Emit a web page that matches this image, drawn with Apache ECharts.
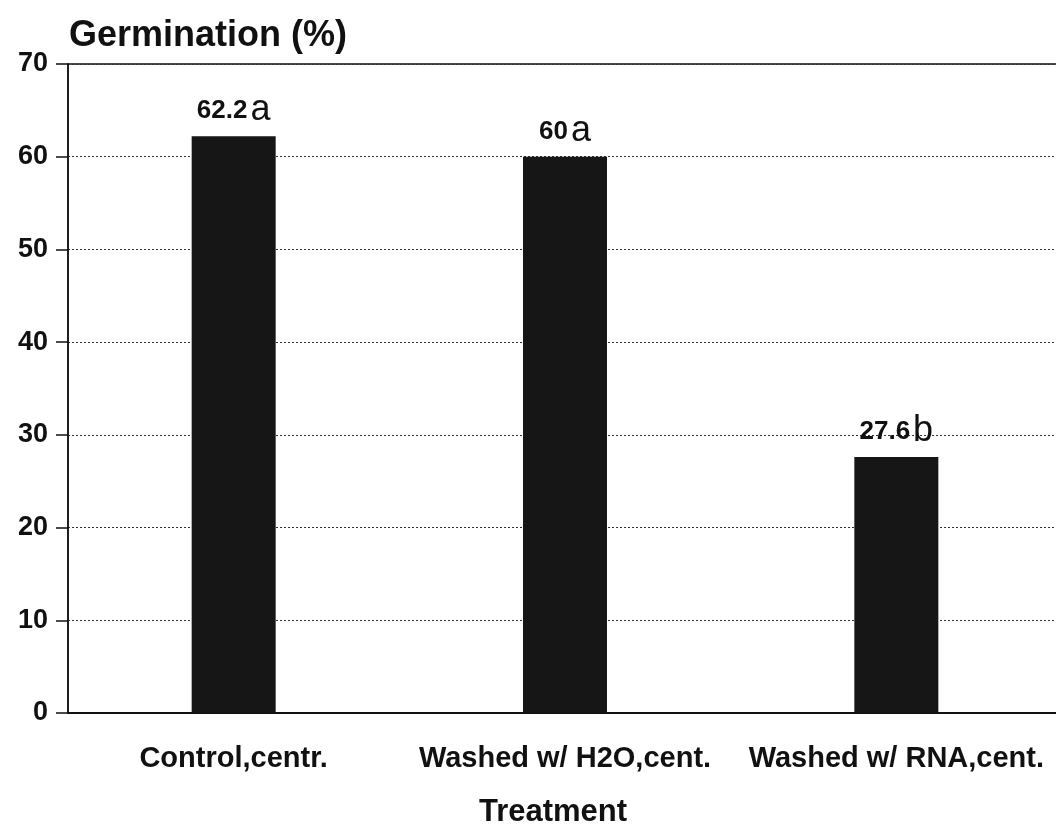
<!DOCTYPE html>
<html>
<head>
<meta charset="utf-8">
<script src="https://cdn.jsdelivr.net/npm/echarts@6/dist/echarts.min.js"></script>
<style>html,body{margin:0;padding:0;background:#fff;}#c{width:1056px;height:834px;}</style>
</head>
<body>
<div id="c"></div>
<script>
var categories = ['Control,centr.', 'Washed w/ H2O,cent.', 'Washed w/ RNA,cent.'];
var values = [62.2, 60, 27.6];
var letters = ['a', 'a', 'b'];
var yTicks = [0, 10, 20, 30, 40, 50, 60, 70];
var yTitle = 'Germination (%)';
var xTitle = 'Treatment';

var FONT = '"Liberation Sans", Arial, Helvetica, sans-serif';
var chart = echarts.init(document.getElementById('c'));
chart.setOption({
  animation: false,
  backgroundColor: '#fff',
  title: {
    text: yTitle, left: 64, top: 13,
    textStyle: { fontFamily: FONT, fontSize: 36, fontWeight: 'bold', color: '#111' }
  },
  grid: { left: 68, width: 994, top: 64, bottom: 121, outerBoundsMode: 'none', containLabel: false, show: true, borderColor: '#111', borderWidth: 1.5, backgroundColor: 'transparent' },
  xAxis: {
    type: 'category', data: categories,
    name: xTitle, nameLocation: 'middle', nameGap: 84,
    nameTextStyle: { fontFamily: FONT, fontSize: 31, fontWeight: 'bold', color: '#111', padding: [0, 24, 0, 0] },
    axisLine: { lineStyle: { color: '#111', width: 2 } },
    axisTick: { alignWithLabel: true, length: 14, lineStyle: { color: '#111', width: 1.5 } },
    axisLabel: { interval: 0, hideOverlap: false, margin: 31, fontFamily: FONT, fontSize: 29, fontWeight: 'bold', color: '#111' }
  },
  yAxis: {
    type: 'value', min: yTicks[0], max: yTicks[yTicks.length - 1], interval: 10,
    axisLine: { show: true, lineStyle: { color: '#111', width: 1.5 } },
    axisTick: { show: true, inside: false, length: 12, lineStyle: { color: '#111', width: 1.5 } },
    axisLabel: { margin: 20, fontFamily: FONT, fontSize: 27, fontWeight: 'bold', color: '#111' },
    splitLine: { show: true, lineStyle: { color: '#333', type: [2, 2], width: 1 } }
  },
  series: [{
    type: 'bar', data: values, barWidth: 84,
    itemStyle: { color: '#161616' },
    label: {
      show: true, position: 'top', distance: 6,
      formatter: function (p) { return '{n|' + p.value + '}{l|' + letters[p.dataIndex] + '}'; },
      rich: {
        n: { fontFamily: FONT, fontSize: 26, fontWeight: 'bold', color: '#111' },
        l: { fontFamily: FONT, fontSize: 36, fontWeight: 'normal', color: '#111', padding: [0, 0, 2, 3] }
      }
    }
  }]
});
</script>
</body>
</html>
